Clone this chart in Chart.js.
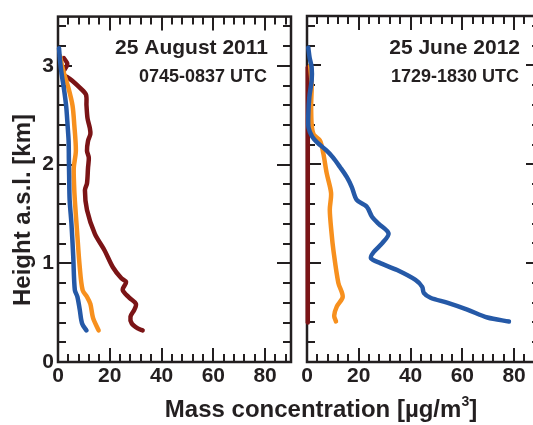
<!DOCTYPE html>
<html>
<head>
<meta charset="utf-8">
<script src="https://cdn.jsdelivr.net/npm/chart.js@4.4.1/dist/chart.umd.min.js"></script>
<style>
  html, body { margin: 0; padding: 0; background: #fff; overflow: hidden; }
  #wrap { position: relative; width: 533px; height: 425px; overflow: hidden; }
  canvas { position: absolute; top: 0; }
  #c1 { left: 0; }
  #c2 { left: 293px; }
  .atitle { position: absolute; font-family: "Liberation Sans", Arial, sans-serif; font-weight: bold;
            font-size: 24px; line-height: 24px; color: #231f20; white-space: nowrap; }
  #ytitle { left: 22px; top: 210px; transform: translate(-50%, -50%) rotate(-90deg); }
  #xtitle { left: 321px; top: 397px; transform: translateX(-50%); }
  #xtitle sup { font-size: 14px; vertical-align: 11px; line-height: 0; }
</style>
</head>
<body>
<div id="wrap">
  <canvas id="c1" width="293" height="425"></canvas>
  <canvas id="c2" width="252" height="425"></canvas>
  <div class="atitle" id="ytitle">Height a.s.l. [km]</div>
  <div class="atitle" id="xtitle">Mass concentration [µg/m<sup>3</sup>]</div>
</div>
<script>
// 25 August 2011 (left panel) - heights in km, mass in µg/m3
const augBlueH = [3.18, 3.05, 2.92, 2.75, 2.58, 2.4, 2.24, 2.05, 1.9, 1.64, 1.4, 1.06, 0.73, 0.66, 0.53, 0.39, 0.32];
const augBlueM = [0.4, 0.8, 1.4, 2.4, 3.2, 3.7, 4.1, 4.2, 4.3, 4.5, 5.2, 5.9, 6.5, 7.5, 8.4, 9.3, 11.0];
const augOrangeH = [3.1, 3.0, 2.9, 2.78, 2.6, 2.4, 2.14, 1.97, 1.8, 1.64, 1.31, 0.96, 0.73, 0.66, 0.59, 0.45, 0.32];
const augOrangeM = [0.8, 1.6, 2.6, 4.0, 5.6, 6.3, 6.9, 6.1, 6.2, 6.5, 7.4, 8.4, 9.5, 11.2, 12.5, 13.5, 15.7];
const augRedH = [3.08, 3.02, 2.95, 2.92, 2.88, 2.85, 2.78, 2.71, 2.6, 2.47, 2.37, 2.31, 2.24, 2.14, 2.07, 1.97, 1.81, 1.74, 1.54, 1.3, 1.13, 0.96, 0.85, 0.81, 0.73, 0.65, 0.59, 0.53, 0.46, 0.39, 0.34, 0.32];
const augRedM = [2.2, 3.6, 2.2, 1.6, 4.0, 5.5, 8.4, 10.8, 11.0, 11.4, 12.3, 12.5, 11.6, 11.2, 11.9, 11.6, 11.2, 10.4, 11.2, 14.2, 18.0, 21.2, 24.4, 26.3, 25.0, 27.6, 30.1, 29.5, 28.0, 28.5, 30.8, 32.7];

// 25 June 2012 (right panel)
const junBlueH = [3.18, 3.08, 2.98, 2.85, 2.68, 2.5, 2.37, 2.28, 2.22, 2.14, 2.07, 1.97, 1.87, 1.77, 1.64, 1.57, 1.47, 1.40, 1.30, 1.20, 1.11, 1.05, 1.0, 0.93, 0.83, 0.76, 0.70, 0.65, 0.60, 0.53, 0.45, 0.41];
const junBlueM = [0.5, 1.0, 1.8, 1.8, 0.9, 0.5, 0.6, 2.0, 4.0, 7.5, 10.0, 12.8, 15.4, 17.3, 19.2, 23.1, 25.1, 27.6, 31.5, 29.0, 25.7, 24.7, 28.3, 34.8, 41.9, 44.5, 45.1, 47.7, 54.1, 61.9, 69.7, 78.0];
const junOrangeH = [3.0, 2.8, 2.6, 2.4, 2.3, 2.24, 2.11, 1.91, 1.71, 1.54, 1.3, 1.13, 0.8, 0.66, 0.56, 0.47, 0.41];
const junOrangeM = [1.2, 1.8, 1.6, 1.8, 2.6, 5.0, 6.3, 7.6, 9.3, 8.8, 9.5, 10.2, 12.1, 13.8, 11.5, 10.5, 11.2];
const junRedH = [2.98, 2.5, 2.0, 1.5, 1.0, 0.4];
const junRedM = [0.3, 0.3, 0.3, 0.3, 0.3, 0.3];

const xMax = 90, yMax = 3.5;
const xMinorStep = 4, yMinorStep = 0.2;

const ink = '#231f20';
const blue = '#2559a7', orange = '#f7901e', darkRed = '#7b1416';
const font = '"Liberation Sans", Arial, sans-serif';

const pts = (h, m) => h.map((v, i) => ({ x: m[i], y: v }));

const series = (data, color) => ({
  data, borderColor: color, borderWidth: 4.5, pointRadius: 0,
  tension: 0.3, borderCapStyle: 'round', borderJoinStyle: 'round', clip: false
});

// frame + inward ticks on all four sides (under the profiles), panel labels on top
const frameTicks = {
  id: 'frameTicks',
  beforeDatasetsDraw(chart) {
    const { ctx, chartArea: a, scales: { x, y } } = chart;
    ctx.save();
    ctx.strokeStyle = ink;
    ctx.lineWidth = 2;
    ctx.beginPath();
    for (let i = 0; i * xMinorStep <= xMax; i++) {
      const v = i * xMinorStep;
      const px = Math.round(x.getPixelForValue(v));
      const len = v % 20 === 0 ? 14 : 8;
      ctx.moveTo(px, a.bottom); ctx.lineTo(px, a.bottom - len);
      ctx.moveTo(px, a.top); ctx.lineTo(px, a.top + len);
    }
    for (let i = 0; i * yMinorStep <= yMax + 1e-9; i++) {
      const py = Math.round(y.getPixelForValue(i * yMinorStep));
      const len = i % 5 === 0 ? 14 : 8;
      ctx.moveTo(a.left, py); ctx.lineTo(a.left + len, py);
      ctx.moveTo(a.right, py); ctx.lineTo(a.right - len, py);
    }
    ctx.stroke();
    ctx.lineWidth = 2.5;
    ctx.strokeRect(a.left, a.top, a.right - a.left, a.bottom - a.top);
    ctx.restore();
  },
  afterDraw(chart, args, opts) {
    const { ctx, chartArea: a } = chart;
    ctx.save();
    ctx.fillStyle = ink;
    ctx.textAlign = 'right';
    ctx.textBaseline = 'alphabetic';
    ctx.font = 'bold 21px ' + font;
    ctx.fillText(opts.title, a.right - opts.inset, 54);
    ctx.font = 'bold 18px ' + font;
    ctx.fillText(opts.sub, a.right - opts.inset - 1, 82);
    ctx.restore();
  }
};

function makeChart(id, datasets, showY, padLeft, padRight, label) {
  return new Chart(document.getElementById(id), {
    type: 'line',
    data: { datasets },
    plugins: [frameTicks],
    options: {
      responsive: false,
      animation: false,
      layout: { padding: { top: 16, bottom: 0, left: padLeft, right: padRight } },
      plugins: { legend: { display: false }, tooltip: { enabled: false }, frameTicks: label },
      scales: {
        x: {
          type: 'linear', min: 0, max: xMax,
          grid: { display: false, drawTicks: false }, border: { display: false },
          ticks: { stepSize: 20, includeBounds: false, maxRotation: 0, autoSkip: false, padding: 2,
                   color: ink, font: { family: font, size: 21, weight: 'bold' } },
          afterFit: s => { s.height = 63; }
        },
        y: {
          type: 'linear', min: 0, max: yMax, display: showY,
          grid: { display: false, drawTicks: false }, border: { display: false },
          ticks: { stepSize: 1, includeBounds: false, padding: 4,
                   color: ink, font: { family: font, size: 21, weight: 'bold' } },
          afterFit: s => { s.width = showY ? 58 : 0; }
        }
      }
    }
  });
}

makeChart('c1', [
  series(pts(augBlueH, augBlueM), blue),
  series(pts(augOrangeH, augOrangeM), orange),
  series(pts(augRedH, augRedM), darkRed)
], true, 0, 2, { title: '25 August 2011', sub: '0745-0837 UTC', inset: 23 });

makeChart('c2', [
  series(pts(junBlueH, junBlueM), blue),
  series(pts(junOrangeH, junOrangeM), orange),
  series(pts(junRedH, junRedM), darkRed)
], false, 14, 5, { title: '25 June 2012', sub: '1729-1830 UTC', inset: 20 });
</script>
</body>
</html>
